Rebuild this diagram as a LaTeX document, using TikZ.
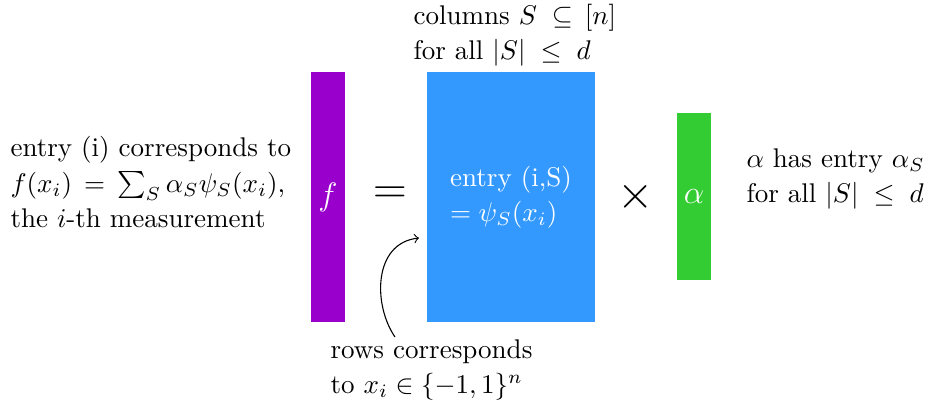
\documentclass[tikz,border=0pt]{standalone}
\usepackage{amsmath,amssymb}
\definecolor{fpurple}{RGB}{153,0,204}
\definecolor{mblue}{RGB}{51,153,255}
\definecolor{agreen}{RGB}{51,204,51}
\begin{document}
\begin{tikzpicture}[x=0.37pt,y=-0.37pt,
  bar/.style={inner sep=0pt, text=white},
  label/.style={align=left, inner sep=0pt, anchor=west, font=\fontsize{10}{13}\selectfont},
  op/.style={inner sep=0pt, font=\LARGE}]
\useasboundingbox (0,0) rectangle (931,407);
\node[bar, fill=fpurple, minimum width=12.58pt, minimum height=92.5pt, font=\large] (f) at (328,197) {$f$};
\node[bar, fill=mblue, minimum width=61.8pt, minimum height=92.5pt, align=left, font=\fontsize{10}{13}\selectfont] (M) at (511,197) {entry (i,S)\\$=\psi_S(x_i)$};
\node[bar, fill=agreen, minimum width=12.58pt, minimum height=61.8pt, font=\large] (a) at (694,196.5) {$\alpha$};
\node[op] (eq) at (390,195) {$=$};
\node[op] (times) at (636,197) {$\times$};
\node[label] (left) at (10,182) {entry (i) corresponds to\\$f(x_i)\,=\,\sum_S \alpha_S\psi_S(x_i)$,\\the $i$-th measurement};
\node[label] (top) at (413,35) {columns $S\;\subseteq\,[n]$\\for all $|S|\;\leq\;d$};
\node[label] (right) at (746,179) {$\alpha$ has entry $\alpha_S$\\for all $|S|\;\leq\;d$};
\node[label] (bottom) at (330,370) {rows corresponds\\to $x_i\in\{-1,1\}^n$};
\coordinate (arrS) at (395,337);
\coordinate (arrE) at (419,238);
\draw[->, thin] (arrS) .. controls (373,305) and (373,243) .. (arrE);
\end{tikzpicture}
\end{document}
